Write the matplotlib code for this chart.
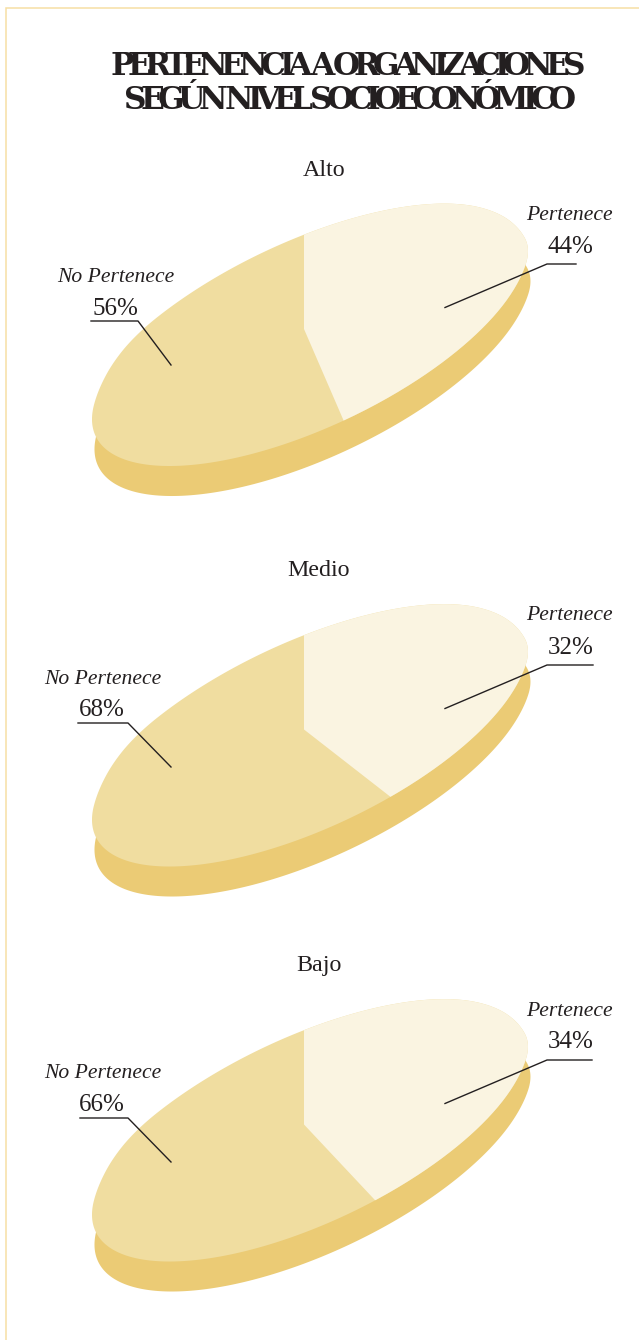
import numpy as np
import matplotlib
matplotlib.use("Agg")
import matplotlib.pyplot as plt
from matplotlib.font_manager import FontProperties
from matplotlib.patches import PathPatch, Wedge
from matplotlib.path import Path
from matplotlib.textpath import TextToPath
from matplotlib.transforms import Affine2D

plt.rcParams['font.family'] = ['Liberation Serif', 'DejaVu Serif']

title_lines = ["PERTENENCIA A ORGANIZACIONES", "SEGÚN NIVEL SOCIOECONÓMICO"]
levels = ["Alto", "Medio", "Bajo"]
pertenece = [44, 32, 34]
no_pertenece = [56, 68, 66]
# share of the disc the drawing really gives to "Pertenece" (read off the picture,
# the slices are not proportional to the printed labels)
drawn_share = [47.3, 44.0, 45.1]

# layout, pixels of the page
pie_y = [334.5, 735, 1130]
level_pos = [(324, 170), (319, 571), (319, 966)]
left_text_x = [115.5, 102.5, 102.5]
left_pct_x = [115, 101.5, 101.5]
left_name_y = [277, 679, 1073]
left_pct_y = [309, 710, 1105]
right_name_y = [215, 616, 1011]
right_pct_y = [247, 648, 1042]
left_leader_y = [321, 723, 1118]
left_leader_x0 = [91, 78, 80]
left_leader_x1 = [138, 128, 128]
right_leader_y = [264, 665, 1060]
right_leader_x1 = [576, 593, 592]

# the disc is not a true ellipse: fuller on the upper left, flatter on the upper right
rim_angle = [-180, -165, -140, -117, -92, -60, -30, -14, 0, 15, 180]
rim_radius = [1, 1, 1.038, 1.026, 1.014, 1.0, 0.985, 0.988, 1.008, 1.0, 1]

LIGHT = "#FAF4E1"
MID = "#F0DDA0"
DARK = "#EBCB75"
INK = "#231F20"

fig = plt.figure(figsize=(6.39, 13.40), dpi=100)
ax = fig.add_axes([0, 0, 1, 1])
ax.set_xlim(0, 639)
ax.set_ylim(1340, 0)
ax.axis("off")

# page border, only left and top
ax.plot([5.5, 5.5, 639], [1340, 7.5, 7.5], color="#F6DFA4", lw=1.1, solid_joinstyle="miter")


def tracked_line(s, x0, x1, y, size):
    # title is set very tight, so each letter gets placed by hand
    prop = FontProperties(family="DejaVu Serif", weight="bold", size=size)
    conv = TextToPath()
    adv = [conv.get_text_width_height_descent(c, prop, False)[0] * fig.dpi / 72 for c in s]
    track = (x1 - x0 - sum(adv)) / (len(s) - 1)
    x = x0
    for c, a in zip(s, adv):
        ax.text(x, y, c, fontproperties=prop, color=INK, ha="left", va="baseline")
        x += a + track


tracked_line(title_lines[0], 110, 586, 75, 22.5)
tracked_line(title_lines[1], 124, 576, 109, 22.5)

ang = np.linspace(-180, 180, 720, endpoint=False)
rad = np.interp(ang, rim_angle, rim_radius)
# smooth the radius so the rim has no corners
kernel = np.ones(31) / 31
rad = np.convolve(np.r_[rad, rad, rad], kernel, mode="same")[720:1440]
rim = Path(np.column_stack([rad * np.cos(np.radians(ang)), rad * np.sin(np.radians(ang))]))

for i, level in enumerate(levels):
    cy = pie_y[i]
    # tilted disc: unit circle squeezed and sheared onto the page
    shape = np.array([[217.5, 0, 0], [-84.7, 100.6, 0], [0, 0, 1]])
    top = Affine2D(shape).translate(309.5, cy) + ax.transData
    low = Affine2D(shape).translate(312, cy + 30) + ax.transData

    ax.add_patch(PathPatch(rim, transform=low, fc=DARK, ec="none", zorder=1))
    disc = PathPatch(rim, transform=top, fc=MID, ec="none", zorder=2)
    ax.add_patch(disc)
    sweep = drawn_share[i] / 100 * 360
    w = Wedge((-0.0253, -0.076), 1.6, -90, -90 + sweep, transform=top, fc=LIGHT, ec="none", zorder=3)
    ax.add_patch(w)
    w.set_clip_path(disc)

    ax.text(level_pos[i][0], level_pos[i][1], level, fontsize=17.3, color=INK, ha="center", va="center")

    ax.text(left_text_x[i], left_name_y[i], "No Pertenece", fontsize=15.6, style="italic", color=INK,
            ha="center", va="center", zorder=5)
    ax.text(left_pct_x[i], left_pct_y[i], f"{no_pertenece[i]}%", fontsize=18, color=INK,
            ha="center", va="center", zorder=5)
    ax.text(569, right_name_y[i], "Pertenece", fontsize=15.6, style="italic", color=INK,
            ha="center", va="center", zorder=5)
    ax.text(570.5, right_pct_y[i], f"{pertenece[i]}%", fontsize=18, color=INK,
            ha="center", va="center", zorder=5)

    # leaders
    ly = left_leader_y[i]
    ax.plot([left_leader_x0[i], left_leader_x1[i], 171], [ly, ly, ly + 44], color=INK, lw=1.0, zorder=4)
    ry = right_leader_y[i]
    ax.plot([right_leader_x1[i], 547, 445], [ry, ry, ry + 43.5], color=INK, lw=1.0, zorder=4)

fig.savefig("out.png", dpi=100, facecolor="white")
